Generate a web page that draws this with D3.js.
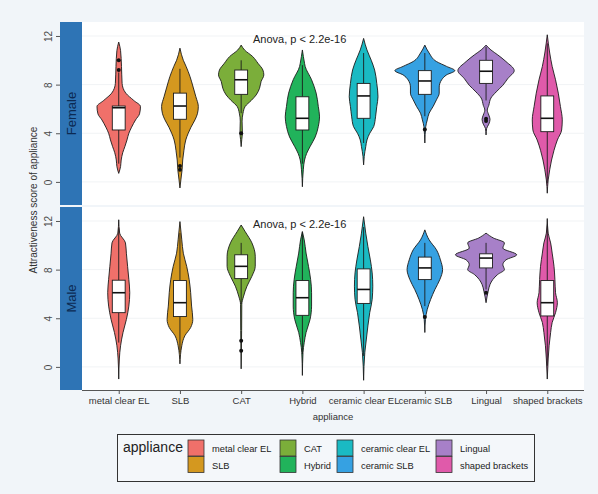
<!DOCTYPE html>
<html>
<head>
<meta charset="utf-8">
<script src="https://cdn.jsdelivr.net/npm/d3@7"></script>
<style>
  html, body { margin: 0; padding: 0; background: #f1f5f9; }
  svg { display: block; font-family: "Liberation Sans", Arial, sans-serif; }
</style>
</head>
<body>
<svg id="chart" width="598" height="494"></svg>
<script>
// ---- data ----
const categories = ["metal clear EL", "SLB", "CAT", "Hybrid", "ceramic clear EL", "ceramic SLB", "Lingual", "shaped brackets"];
const panels = ["Female", "Male"];
const palette = ["#f0706a", "#d4981f", "#7bae3a", "#21b35b", "#1abac3", "#36a1e2", "#a780c8", "#e05aaa"];
const yTicks = [0, 4, 8, 12];
const anovaLabel = "Anova, p < 2.2e-16";

// violin outlines: [score, density] from top of the range to the bottom
const femaleDensity = [
  [[11.5,0],[10.8,.06],[9.5,.09],[8.1,.11],[7.3,.23],[6.7,.49],[6.2,.71],[5.6,.68],[5.1,.55],[4.5,.42],[4.0,.33],[3.45,.27],[2.9,.20],[2.4,.13],[1.8,.08],[1.26,.06],[0.7,0]],
  [[11.0,0],[10.0,.11],[9.5,.20],[8.65,.33],[7.8,.43],[7.0,.52],[6.2,.60],[5.6,.57],[5.1,.49],[4.5,.36],[4.0,.27],[3.45,.19],[2.6,.13],[1.8,.09],[1.0,.07],[0.16,.03],[-0.5,0]],
  [[11.25,0],[10.85,.11],[10.3,.38],[9.75,.55],[9.2,.71],[8.8,.74],[8.25,.65],[7.7,.60],[7.15,.49],[6.7,.33],[6.2,.13],[5.65,.06],[5.0,.03],[4.0,.04],[3.5,.02],[2.9,0]],
  [[10.85,0],[9.75,.07],[9.5,.09],[8.4,.30],[7.3,.45],[6.2,.52],[5.35,.56],[4.55,.52],[3.7,.42],[2.9,.25],[2.35,.14],[1.8,.07],[1.0,.03],[-0.4,0]],
  [[11.8,0],[10.85,.11],[10.0,.25],[9.2,.36],[8.1,.43],[7.0,.47],[6.2,.43],[5.35,.39],[4.55,.33],[4.0,.20],[3.45,.11],[2.9,.07],[2.1,.02],[1.4,0]],
  [[11.25,0],[10.6,.14],[9.9,.38],[9.5,.71],[9.15,.98],[8.8,.71],[8.4,.55],[7.8,.47],[7.3,.47],[6.75,.38],[6.2,.27],[5.65,.14],[5.1,.08],[4.55,.03],[3.2,0]],
  [[11.25,0],[10.85,.16],[10.45,.38],[9.9,.65],[9.15,.92],[8.5,.71],[7.95,.55],[7.4,.33],[6.9,.16],[6.3,.09],[5.9,.04],[5.5,.09],[5.15,.13],[4.75,.09],[4.4,.02],[3.86,0]],
  [[12.1,0],[10.6,.08],[9.5,.16],[8.4,.27],[7.3,.36],[6.2,.43],[5.1,.49],[4.27,.47],[3.45,.33],[2.6,.22],[1.8,.14],[1.0,.08],[0.16,.03],[-0.93,0]]
];
const maleDensity = [
  [[12.1,0],[11.0,.03],[10.2,.22],[9.35,.25],[8.27,.29],[7.2,.33],[6.1,.36],[5.0,.33],[3.9,.25],[2.83,.14],[1.74,.06],[0.65,.02],[-1.0,0]],
  [[11.95,0],[10.45,.06],[9.35,.11],[8.27,.22],[7.2,.30],[6.1,.35],[5.0,.38],[3.9,.42],[3.24,.35],[2.56,.16],[1.74,.06],[0.25,0]],
  [[11.67,0],[11.13,.13],[10.2,.35],[9.1,.46],[8.27,.46],[7.45,.35],[6.64,.19],[5.82,.08],[5.14,.02],[3.0,.015],[-0.16,0]],
  [[11.13,0],[10.45,.06],[9.36,.12],[8.27,.20],[7.18,.27],[6.1,.30],[5.0,.30],[3.9,.25],[2.83,.12],[2.0,.06],[1.2,.02],[-0.7,0]],
  [[12.35,0],[11.0,.07],[9.9,.14],[8.8,.22],[7.73,.28],[6.64,.30],[5.55,.28],[4.46,.20],[3.37,.14],[2.29,.09],[1.2,.04],[-1.1,0]],
  [[11.27,0],[10.45,.14],[9.63,.38],[8.8,.51],[8.0,.58],[7.18,.49],[6.37,.33],[5.55,.19],[4.73,.08],[3.9,.02],[2.83,0]],
  [[11.0,0],[10.6,.24],[10.2,.60],[9.77,.55],[9.22,1.0],[8.8,.65],[8.4,.55],[8.0,.60],[7.6,.38],[7.18,.22],[6.78,.13],[6.23,.07],[5.28,0]],
  [[12.2,0],[11.0,.03],[10.2,.11],[9.36,.16],[8.27,.22],[7.18,.25],[6.1,.27],[5.28,.33],[4.46,.27],[3.65,.16],[2.83,.11],[1.74,.06],[0.65,.03],[-1.0,0]]
];

// box summaries: [lower whisker, Q1, median, Q3, upper whisker]
const femaleBox = [
  [1.5, 4.27, 6.1, 6.24, 9.0],
  [2.0, 5.15, 6.24, 7.3, 9.3],
  [5.65, 7.2, 8.4, 9.2, 10.0],
  [1.5, 4.27, 5.23, 7.0, 9.6],
  [3.2, 5.23, 7.07, 8.1, 10.6],
  [5.4, 7.2, 8.3, 9.15, 10.6],
  [6.7, 8.1, 9.1, 10.0, 11.1],
  [-0.1, 4.13, 5.23, 7.07, 11.4]
];
const maleBox = [
  [2.0, 4.46, 6.1, 7.13, 11.4],
  [1.2, 4.14, 5.28, 7.1, 11.0],
  [5.14, 7.26, 8.27, 9.22, 10.2],
  [1.06, 4.24, 5.69, 7.1, 11.1],
  [0.9, 5.22, 6.37, 8.06, 11.5],
  [5.0, 7.18, 8.14, 9.03, 10.2],
  [6.37, 8.14, 8.95, 9.3, 10.2],
  [0.1, 4.19, 5.28, 7.1, 11.7]
];
const femaleOutliers = [[9.2, 10.0], [1.3, 1.0], [4.0], [], [], [4.3], [5.2, 5.0], []];
const maleOutliers = [[], [], [2.15, 1.33], [], [], [4.1], [6.1], []];

// ---- layout ----
const svg = d3.select("#chart");
const plotLeft = 82, plotRight = 584;
const stripLeft = 60;
const panelBands = [[22, 205], [207, 390]];
const panelData = [
  { density: femaleDensity, box: femaleBox, out: femaleOutliers },
  { density: maleDensity, box: maleBox, out: maleOutliers }
];

const x = d3.scalePoint().domain(categories).range([plotLeft, plotRight]).padding(0.6);
const step = x.step();
const dens = d3.scaleLinear().domain([0, 1]).range([0, step * 0.5]);
const boxHalf = step * 0.105;
const colour = d3.scaleOrdinal().domain(categories).range(palette);

panels.forEach((panel, p) => {
  const [top, bottom] = panelBands[p];
  const y = d3.scaleLinear().domain([-1.9, 13.15]).range([bottom, top]);
  const g = svg.append("g");

  // panel background and strip
  g.append("rect").attr("x", plotLeft).attr("y", top).attr("width", plotRight - plotLeft)
    .attr("height", bottom - top).attr("fill", "#ffffff");
  g.append("rect").attr("x", stripLeft).attr("y", top).attr("width", plotLeft - stripLeft)
    .attr("height", bottom - top).attr("fill", "#2e74b5");
  g.append("text")
    .attr("transform", `translate(${(stripLeft + plotLeft) / 2 + 4.5},${(top + bottom) / 2}) rotate(-90)`)
    .attr("text-anchor", "middle").attr("font-size", 13).attr("fill", "#0c2a52")
    .text(panel);

  // light horizontal grid
  g.selectAll(".grid").data(yTicks).join("line")
    .attr("x1", plotLeft).attr("x2", plotRight)
    .attr("y1", d => y(d)).attr("y2", d => y(d))
    .attr("stroke", "#f1f3f5").attr("stroke-width", 1);

  // y axis: ticks left of the strip, labels rotated
  const yAxis = d3.axisLeft(y).tickValues(yTicks).tickSize(4).tickPadding(3);
  const ya = g.append("g").attr("transform", `translate(${stripLeft},0)`).call(yAxis);
  ya.select(".domain").remove();
  ya.selectAll("line").attr("stroke", "#555");
  ya.selectAll("text")
    .attr("font-size", 10).attr("fill", "#4a4a4a")
    .attr("text-anchor", "middle").attr("dy", 0)
    .attr("transform", "translate(-8,0) rotate(-90)")
    .attr("x", 0).attr("y", 0);

  const data = panelData[p];
  categories.forEach((cat, i) => {
    const cx = x(cat);
    const area = d3.area()
      .y(d => y(d[0]))
      .x0(d => cx - dens(d[1]))
      .x1(d => cx + dens(d[1]))
      .curve(d3.curveMonotoneY);
    g.append("path").datum(data.density[i])
      .attr("d", area)
      .attr("fill", colour(cat))
      .attr("stroke", "#1c1c1c").attr("stroke-width", 0.9);

    const [lo, q1, med, q3, hi] = data.box[i];
    // whiskers
    g.append("line").attr("x1", cx).attr("x2", cx).attr("y1", y(hi)).attr("y2", y(q3))
      .attr("stroke", "#1c1c1c").attr("stroke-width", 0.9);
    g.append("line").attr("x1", cx).attr("x2", cx).attr("y1", y(q1)).attr("y2", y(lo))
      .attr("stroke", "#1c1c1c").attr("stroke-width", 0.9);
    // box
    g.append("rect").attr("x", cx - boxHalf).attr("y", y(q3))
      .attr("width", boxHalf * 2).attr("height", y(q1) - y(q3))
      .attr("fill", "#ffffff").attr("stroke", "#1c1c1c").attr("stroke-width", 0.9);
    g.append("line").attr("x1", cx - boxHalf).attr("x2", cx + boxHalf)
      .attr("y1", y(med)).attr("y2", y(med))
      .attr("stroke", "#111").attr("stroke-width", 1.6);
    // outliers
    g.selectAll(null).data(data.out[i]).join("circle")
      .attr("cx", cx).attr("cy", d => y(d)).attr("r", 2)
      .attr("fill", "#111");
  });

  g.append("text").attr("x", 253).attr("y", top + 21)
    .attr("font-size", 11).attr("fill", "#222").text(anovaLabel);

  if (p === panels.length - 1) {
    const xAxis = d3.axisBottom(x).tickSize(4).tickPadding(3);
    const xa = g.append("g").attr("transform", `translate(0,${bottom})`).call(xAxis);
    xa.select(".domain").attr("stroke", "#555").attr("d", `M${plotLeft},0.5H${plotRight}`);
    xa.selectAll("line").attr("stroke", "#555");
    xa.selectAll("text").attr("font-size", 9.5).attr("fill", "#333");
    svg.append("text").attr("x", (plotLeft + plotRight) / 2).attr("y", bottom + 30)
      .attr("text-anchor", "middle").attr("font-size", 9.5).attr("fill", "#333").text("appliance");
  }
});

// y axis title
svg.append("text")
  .attr("transform", "translate(37,200) rotate(-90)")
  .attr("text-anchor", "middle").attr("font-size", 10).attr("fill", "#333")
  .text("Attractiveness score of appliance");

// legend: two rows, filled column by column
const legend = svg.append("g");
legend.append("rect").attr("x", 117.5).attr("y", 434.5).attr("width", 417).attr("height", 47)
  .attr("fill", "#f4f7fa").attr("stroke", "#333").attr("stroke-width", 1);
legend.append("text").attr("x", 123).attr("y", 452).attr("font-size", 14).attr("fill", "#222")
  .text("appliance");
const colX = [188, 280, 337, 436];
categories.forEach((cat, i) => {
  const c = Math.floor(i / 2), r = i % 2;
  const kx = colX[c], ky = 440 + r * 16.5;
  legend.append("rect").attr("x", kx).attr("y", ky).attr("width", 16).attr("height", 16)
    .attr("fill", colour(cat)).attr("stroke", "#333").attr("stroke-width", 0.8);
  legend.append("text").attr("x", kx + 24).attr("y", ky + 12).attr("font-size", 9.3)
    .attr("fill", "#222").text(cat);
});
</script>
</body>
</html>
